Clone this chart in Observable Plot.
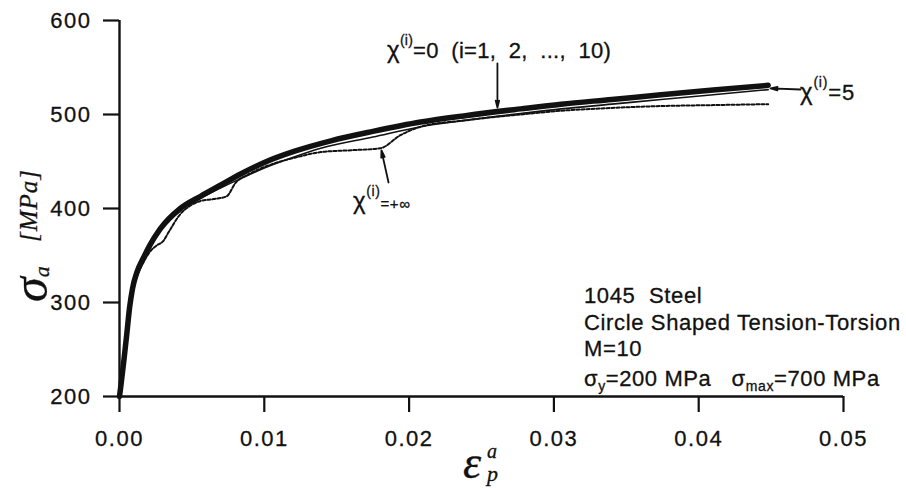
<!DOCTYPE html>
<html>
<head>
<meta charset="utf-8">
<script src="https://cdn.jsdelivr.net/npm/d3@7"></script>
<script src="https://cdn.jsdelivr.net/npm/@observablehq/plot@0.6"></script>
<style>
  body { margin: 0; background: #fff; }
  #chart svg { display: block; }
  #chart svg text { stroke: #111; stroke-width: 0.3px; }
  #chart g[aria-label$="axis tick"] { stroke-width: 2.2px; }
  #chart g[aria-label$="-axis"] line { stroke-width: 2.2px; }
  #chart g[aria-label$="axis tick label"] text,
  #chart g[aria-label$="-axis"] text { letter-spacing: 1.5px; }
  .pre { white-space: pre; }
</style>
</head>
<body>
<div id="chart"></div>
<script>
// Axial stress–plastic strain curves, 1045 steel, circle-shaped tension–torsion path.
// Strain ε_p^a (dimensionless) and stress σ_a (MPa) for each χ^(i) setting.

// χ^(i) = 0 (i = 1, 2, ..., 10): the heavy band
const strainZero = [0, 0.0001, 0.0003, 0.0005, 0.0007, 0.0009, 0.0012, 0.0017, 0.0021, 0.0028, 0.0042,
  0.0056, 0.0070, 0.0084, 0.0100, 0.0121, 0.0146, 0.0175, 0.0208, 0.0240, 0.0277,
  0.0305, 0.0340, 0.0374, 0.0410, 0.0448];
const stressZero = [200, 212, 238, 266, 295, 315, 332, 349, 361, 378, 400,
  413, 425, 437, 449, 461, 472, 482, 492, 499, 506,
  511, 516, 521, 526, 531];

// χ^(i) = 5: thin solid line
const strainFive = [0, 0.0001, 0.0003, 0.0005, 0.0007, 0.0009, 0.0012, 0.0017, 0.0021, 0.0028, 0.0042,
  0.0056, 0.0070, 0.0084, 0.0100, 0.0121, 0.0139, 0.0175, 0.0208, 0.0240, 0.0277,
  0.0305, 0.0340, 0.0374, 0.0410, 0.0448];
const stressFive = [200, 212, 238, 266, 294, 314, 330, 347, 359, 376, 398,
  411, 422, 432, 443, 455, 464, 476, 487, 494, 501,
  506, 511, 516, 521, 526.5];

// χ^(i) = +∞: dotted line with plateaus
const strainInf = [0, 0.0001, 0.0003, 0.0005, 0.0007, 0.0009, 0.0012, 0.0017, 0.0021, 0.0026, 0.0030,
  0.0034, 0.0042, 0.0050, 0.0056, 0.0065, 0.0074, 0.0080, 0.0090, 0.0105, 0.0121,
  0.0139, 0.0160, 0.0180, 0.0194, 0.0208, 0.0240, 0.0277, 0.0305, 0.0340, 0.0374,
  0.0410, 0.0448];
const stressInf = [200, 212, 238, 265, 292, 311, 327, 344, 354, 361, 365,
  375, 394, 404, 408, 410, 413, 427, 437, 447, 454,
  460, 462, 464, 478, 487, 494, 500, 504, 507, 509,
  510, 511];

const xTicks = [0, 0.01, 0.02, 0.03, 0.04, 0.05];
const yTicks = [200, 300, 400, 500, 600];

const infoLines = ["1045  Steel", "Circle Shaped Tension-Torsion", "M=10"];

// Pointer arrows for the curve labels: [x, y] in data units
const pointerFrom = [[0.02610, 554.3], [0.01858, 427.7], [0.04703, 526.6]];
const pointerTo   = [[0.02610, 507.4], [0.01809, 461.7], [0.04496, 527.7]];

const rows = (xs, ys) => xs.map((x, i) => ({x, y: ys[i]}));
const arrows = pointerFrom.map((p, i) => ({x1: p[0], y1: p[1], x2: pointerTo[i][0], y2: pointerTo[i][1]}));

const FONT = "'Liberation Sans', Arial, Helvetica, sans-serif";
const SERIF = "'Liberation Serif', 'Times New Roman', serif";

const chart = Plot.plot({
  width: 906,
  height: 490,
  marginLeft: 119,
  marginRight: 63,
  marginTop: 20,
  marginBottom: 94,
  style: {fontFamily: FONT, fontSize: "22px", color: "#111", background: "#fff"},
  x: {domain: [0, 0.05], ticks: xTicks, tickFormat: d3.format(".2f"), tickSize: 16, tickPadding: 18, label: null},
  y: {domain: [200, 600], ticks: yTicks, tickSize: 16, tickPadding: 12, label: null},
  marks: [
    Plot.ruleX([0], {stroke: "#111", strokeWidth: 2.4}),
    Plot.ruleY([200], {stroke: "#111", strokeWidth: 2.4}),
    Plot.line(rows(strainInf, stressInf), {x: "x", y: "y", stroke: "#111", strokeWidth: 2, strokeDasharray: "3,2", curve: "monotone-x"}),
    Plot.line(rows(strainZero, stressZero), {x: "x", y: "y", stroke: "#111", strokeWidth: 5.5, curve: "monotone-x"}),
    Plot.line(rows(strainFive, stressFive), {x: "x", y: "y", stroke: "#111", strokeWidth: 1.6, curve: "monotone-x"}),
    Plot.arrow(arrows, {x1: "x1", y1: "y1", x2: "x2", y2: "y2", stroke: "#111", strokeWidth: 1.8, headAngle: 28, headLength: 6})
  ]
});

document.getElementById("chart").append(chart);

const svgEl = chart.tagName.toLowerCase() === "svg" ? chart : chart.querySelector("svg");
const svg = d3.select(svgEl);
const sx = chart.scale("x"), sy = chart.scale("y");
const X = d3.scaleLinear(sx.domain, sx.range);
const Y = d3.scaleLinear(sy.domain, sy.range);

// Text made of runs: [text, fontSize, dy]
function runs(x, y, parts, opts = {}) {
  const t = svg.append("text")
    .attr("class", "pre")
    .attr("text-anchor", "start")
    .attr("fill", "#111")
    .attr("font-family", opts.family || FONT)
    .attr("font-style", opts.style || "normal")
    .attr("letter-spacing", opts.spacing || 0);
  if (opts.transform) t.attr("transform", opts.transform).attr("x", 0).attr("y", 0);
  else t.attr("x", x).attr("y", y);
  for (const [s, size, dy] of parts) {
    t.append("tspan").attr("font-size", size).attr("dy", dy || 0).text(s);
  }
  return t;
}

// curve labels
runs(X(0.01851), Y(559.6), [["χ", 24, 0], ["(i)", 14, -13], ["=0  (i=1,  2,  ...,  10)", 22, 13]], {spacing: 0.25});
runs(X(0.01616), Y(398.9), [["χ", 24, 0], ["(i)", 14, -13], ["=+∞", 15, 13]], {spacing: 0.6});
runs(X(0.04703), Y(514.9), [["χ", 24, 0], ["(i)", 14, -13], ["=5", 22, 13]], {spacing: 0.8});

// material / loading information
const infoX = X(0.03211);
const infoY = [Y(298.9), Y(270.2), Y(242.6)];
infoLines.forEach((s, i) => runs(infoX, infoY[i], [[s, 22, 0]], {spacing: 0.65}));
runs(infoX, Y(210.6), [["σ", 22, 0], ["y", 14, 5], ["=200 MPa   σ", 22, -5], ["max", 14, 5], ["=700 MPa", 22, -5]], {spacing: 0.6});

// axis titles
runs(0, 0, [["σ", 50, 0], ["a", 22, 2]], {family: SERIF, style: "italic", transform: "translate(47,302) rotate(-90)"});
runs(0, 0, [["[MPa]", 25, 0]], {family: SERIF, style: "italic", spacing: 1, transform: "translate(37,242) rotate(-90)"});
runs(463, 478, [["ε", 46, 0]], {family: SERIF, style: "italic"});
runs(487, 458, [["a", 20, 0]], {family: SERIF, style: "italic"});
runs(487, 481, [["p", 22, 0]], {family: SERIF, style: "italic"});
</script>
</body>
</html>
